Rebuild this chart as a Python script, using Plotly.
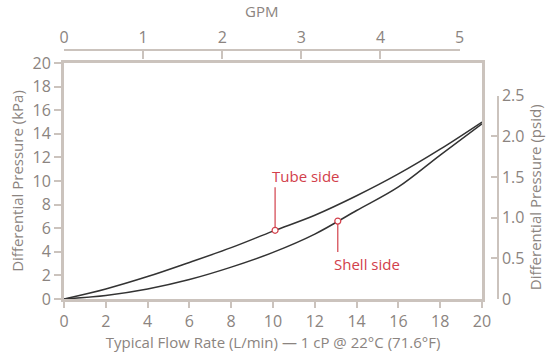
import plotly.graph_objects as go

# Data
flow_lpm = [0, 2, 4, 6, 8, 10, 12, 14, 16, 18, 20]
tube_kpa = [0, 0.85, 1.9, 3.1, 4.35, 5.75, 7.1, 8.75, 10.6, 12.7, 15.0]
shell_kpa = [0, 0.3, 0.85, 1.65, 2.7, 3.95, 5.5, 7.5, 9.5, 12.2, 14.85]

x_ticks = [0, 2, 4, 6, 8, 10, 12, 14, 16, 18, 20]
y_ticks = [0, 2, 4, 6, 8, 10, 12, 14, 16, 18, 20]
gpm_ticks = [0, 1, 2, 3, 4, 5]
psid_ticks = [0, 0.5, 1.0, 1.5, 2.0, 2.5]
psid_labels = ["0", "0.5", "1.0", "1.5", "2.0", "2.5"]

tube_label_pt = (10.1, 5.82)
shell_label_pt = (13.1, 6.6)

LPM_PER_GPM = 3.78541
KPA_PER_PSI = 6.89476

LINE = "#cbc3bd"
TXT = "#8b8480"
RED = "#d2404b"
CURVE = "#333333"
FONT = "Open Sans"

W, H = 556, 354
ml, mr, mt, mb = 64, 58, 50, 55
pw = W - ml - mr
ph = H - mt - mb
xdom_end = 418 / pw
ydom_end = 236 / ph

fig = go.Figure()
fig.add_trace(go.Scatter(x=flow_lpm, y=tube_kpa, mode="lines", line=dict(color=CURVE, width=1.5),
                         line_shape="spline", showlegend=False, hoverinfo="skip"))
fig.add_trace(go.Scatter(x=flow_lpm, y=shell_kpa, mode="lines", line=dict(color=CURVE, width=1.5),
                         line_shape="spline", showlegend=False, hoverinfo="skip"))
# hidden traces to make the secondary axes exist
fig.add_trace(go.Scatter(x=[gpm_ticks[0]], y=[None], xaxis="x2", yaxis="y", showlegend=False, hoverinfo="skip"))
fig.add_trace(go.Scatter(x=[None], y=[psid_ticks[0]], xaxis="x", yaxis="y2", showlegend=False, hoverinfo="skip"))

# label markers
fig.add_trace(go.Scatter(x=[tube_label_pt[0], shell_label_pt[0]], y=[tube_label_pt[1], shell_label_pt[1]],
                         mode="markers", marker=dict(size=6, color="white", line=dict(color=RED, width=1.2)),
                         showlegend=False, hoverinfo="skip"))

# leader lines
fig.add_shape(type="line", xref="x", yref="y", ysizemode="pixel", yanchor=tube_label_pt[1],
              x0=tube_label_pt[0], x1=tube_label_pt[0], y0=3, y1=43, line=dict(color=RED, width=1.2))
fig.add_shape(type="line", xref="x", yref="y", ysizemode="pixel", yanchor=shell_label_pt[1],
              x0=shell_label_pt[0], x1=shell_label_pt[0], y0=-3, y1=-31, line=dict(color=RED, width=1.2))

fig.add_annotation(x=tube_label_pt[0], y=tube_label_pt[1], xref="x", yref="y", text="Tube side",
                   showarrow=False, xanchor="left", yanchor="bottom", xshift=-5, yshift=42,
                   font=dict(family=FONT, size=15, color=RED))
fig.add_annotation(x=shell_label_pt[0], y=shell_label_pt[1], xref="x", yref="y", text="Shell side",
                   showarrow=False, xanchor="left", yanchor="top", xshift=-6, yshift=-31,
                   font=dict(family=FONT, size=15, color=RED))

fig.update_layout(
    width=W, height=H,
    margin=dict(l=ml, r=mr, t=mt, b=mb, autoexpand=False),
    paper_bgcolor="white", plot_bgcolor="rgba(0,0,0,0)",
    font=dict(family=FONT, size=15, color=TXT),
    xaxis=dict(domain=[0, xdom_end], range=[0, 20], tickvals=x_ticks, showgrid=False, zeroline=False,
               showline=True, linecolor=LINE, linewidth=3, mirror=True,
               ticks="outside", ticklen=6, tickwidth=2, tickcolor=LINE,
               tickfont=dict(size=16, color=TXT),
               title=dict(text="Typical Flow Rate (L/min) — 1 cP @ 22°C (71.6°F)",
                          font=dict(size=15, color=TXT), standoff=4),
               anchor="y"),
    yaxis=dict(domain=[0, ydom_end], range=[0, 20], tickvals=y_ticks, showgrid=False, zeroline=False,
               showline=True, linecolor=LINE, linewidth=3, mirror=True,
               ticks="outside", ticklen=7, tickwidth=2, tickcolor=LINE,
               tickfont=dict(size=16, color=TXT),
               title=dict(text="Differential Pressure (kPa)", font=dict(size=15, color=TXT), standoff=6),
               anchor="x"),
    xaxis2=dict(domain=[0, xdom_end * gpm_ticks[-1] * LPM_PER_GPM / 20], range=[0, gpm_ticks[-1]],
                tickvals=gpm_ticks, side="top", anchor="free", position=1,
                showgrid=False, zeroline=False, showline=True, linecolor=LINE, linewidth=1.5,
                ticks="inside", ticklen=8, tickwidth=1.5, tickcolor=LINE,
                tickfont=dict(size=16, color=TXT),
                title=dict(text="GPM", font=dict(size=15, color=TXT), standoff=4)),
    yaxis2=dict(domain=[0, ydom_end * psid_ticks[-1] * KPA_PER_PSI / 20], range=[0, psid_ticks[-1]],
                tickvals=psid_ticks, ticktext=psid_labels, side="right", anchor="free", position=1,
                showgrid=False, zeroline=False, showline=True, linecolor=LINE, linewidth=1.5,
                ticks="inside", ticklen=6, tickwidth=1.5, tickcolor=LINE,
                tickfont=dict(size=16, color=TXT),
                title=dict(text="Differential Pressure (psid)", font=dict(size=15, color=TXT), standoff=6)),
)

fig.write_html("out.html", config={"displayModeBar": False},
               post_script="document.body.style.margin='0';")
